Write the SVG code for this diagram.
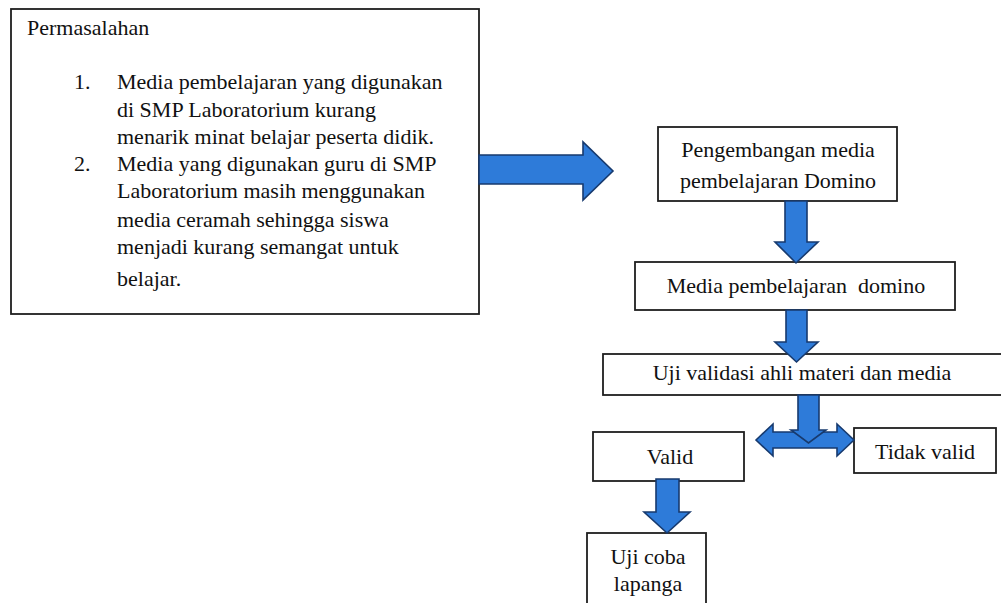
<svg xmlns="http://www.w3.org/2000/svg" width="1001" height="603" viewBox="0 0 1001 603">
<style>
  .box { fill: #ffffff; stroke: #1e1e1e; stroke-width: 1.8; }
  .t { font-family: "Liberation Serif", "Times New Roman", serif; font-size: 22px; fill: #111111; }
  .c { text-anchor: middle; }
  .arrow { fill: #2e7bd9; stroke: #173a6e; stroke-width: 1.6; stroke-linejoin: miter; }
</style>
<rect width="1001" height="603" fill="#ffffff"/>
<g id="node-permasalahan">
  <rect class="box" x="11" y="9" width="468" height="305"/>
  <text class="t" x="27" y="35">Permasalahan</text>
  <text class="t" x="74" y="89">1.</text>
  <text class="t" x="117" y="89">Media pembelajaran yang digunakan</text>
  <text class="t" x="117" y="117">di SMP Laboratorium kurang</text>
  <text class="t" x="117" y="144">menarik minat belajar peserta didik.</text>
  <text class="t" x="74" y="171">2.</text>
  <text class="t" x="117" y="171">Media yang digunakan guru di SMP</text>
  <text class="t" x="117" y="198">Laboratorium masih menggunakan</text>
  <text class="t" x="117" y="227">media ceramah sehingga siswa</text>
  <text class="t" x="117" y="254">menjadi kurang semangat untuk</text>
  <text class="t" x="117" y="286">belajar.</text>
</g>
<g id="node-pengembangan">
  <rect class="box" x="658" y="127" width="239" height="74"/>
  <text class="t c" x="778" y="157">Pengembangan media</text>
  <text class="t c" x="778" y="188">pembelajaran Domino</text>
</g>
<g id="node-media">
  <rect class="box" x="635" y="262" width="320" height="48"/>
  <text class="t c" x="796" y="293" xml:space="preserve">Media pembelajaran  domino</text>
</g>
<g id="node-uji-validasi">
  <rect class="box" x="603" y="354" width="402" height="41"/>
  <text class="t c" x="802" y="380">Uji validasi ahli materi dan media</text>
</g>
<g id="node-valid">
  <rect class="box" x="593" y="432" width="151" height="49"/>
  <text class="t c" x="670" y="464">Valid</text>
</g>
<g id="node-tidak-valid">
  <rect class="box" x="854" y="428" width="142" height="45"/>
  <text class="t c" x="925" y="459">Tidak valid</text>
</g>
<g id="node-uji-coba">
  <rect class="box" x="587" y="533" width="119" height="75"/>
  <text class="t c" x="648" y="564">Uji coba</text>
  <text class="t c" x="648" y="591">lapanga</text>
</g>
<g id="connectors">
  <path class="arrow" d="M479,155 L583,155 L583,142 L613,171 L583,200 L583,184 L479,184 Z"/>
  <path class="arrow" d="M785,201 L807,201 L807,242 L818,242 L796,263 L775,242 L785,242 Z"/>
  <path class="arrow" d="M786,310 L807,310 L807,342 L818,342 L796.5,362 L775,342 L786,342 Z"/>
  <path class="arrow" d="M756,440 L773,424 L773,432 L837,432 L837,424 L854,440 L837,456 L837,448 L773,448 L773,456 Z"/>
  <path class="arrow" d="M798,395 L819,395 L819,430 L826,430 L808.5,443 L791,430 L798,430 Z"/>
  <path class="arrow" d="M656,479 L679,479 L679,512 L690,512 L667,533 L644,512 L656,512 Z"/>
</g>
</svg>
